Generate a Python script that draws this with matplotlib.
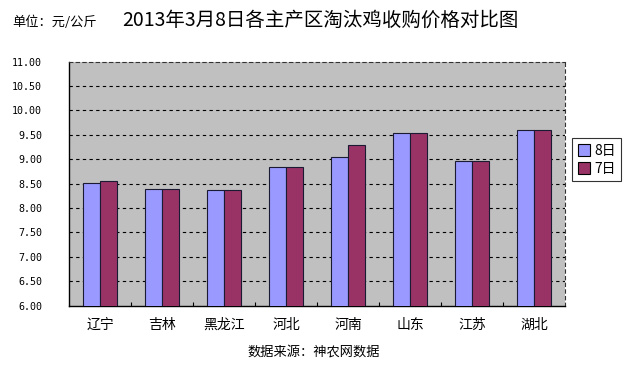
import matplotlib
matplotlib.use("Agg")
import matplotlib.pyplot as plt
import numpy as np
from matplotlib.patches import Patch

plt.rcParams['font.family'] = ['Noto Sans CJK SC', 'DejaVu Sans']

categories = ["辽宁", "吉林", "黑龙江", "河北", "河南", "山东", "江苏", "湖北"]
series_names = ["8日", "7日"]
values_8 = [8.51, 8.39, 8.37, 8.84, 9.05, 9.53, 8.96, 9.60]
values_7 = [8.56, 8.39, 8.37, 8.84, 9.30, 9.53, 8.96, 9.60]
yticks = [6.0, 6.5, 7.0, 7.5, 8.0, 8.5, 9.0, 9.5, 10.0, 10.5, 11.0]

fig = plt.figure(figsize=(6.32, 3.65), dpi=100)
ax = fig.add_axes([0.1097, 0.1625, 0.7843, 0.6685])
ax.set_facecolor('#C0C0C0')

x = np.arange(len(categories))
w = 0.275
ax.bar(x - w / 2, values_8, width=w, bottom=0, color='#9999FF', edgecolor='#1a1a33', linewidth=0.8, zorder=3)
ax.bar(x + w / 2, values_7, width=w, bottom=0, color='#993366', edgecolor='#1a1a33', linewidth=0.8, zorder=3)

ax.set_xlim(-0.5, len(categories) - 0.5)
ax.set_ylim(6.0, 11.0)
ax.set_yticks(yticks)
ax.set_yticklabels([f"{v:.2f}" for v in yticks], fontsize=7.2, family='DejaVu Sans Mono')
ax.tick_params(axis='y', length=0, pad=19.5)
ax.set_xticks(x)
ax.set_xticklabels(categories, fontsize=10)
ax.tick_params(axis='x', length=0, pad=9)
ax.set_xticks(np.arange(0.5, len(categories) - 0.5, 1), minor=True)
ax.tick_params(axis='x', which='minor', direction='in', length=3, width=0.8, color='black')

for v in yticks[1:-1]:
    ax.axhline(v, color='black', linestyle=(0, (3, 3)), linewidth=0.8, zorder=2)

ax.spines['left'].set_color('black')
ax.spines['bottom'].set_color('black')
ax.spines['left'].set_linewidth(1.0)
ax.spines['bottom'].set_linewidth(1.0)
for s in ['top', 'right']:
    ax.spines[s].set_linestyle((0, (3, 3)))
    ax.spines[s].set_color('#333333')
    ax.spines[s].set_linewidth(0.8)

handles = [Patch(facecolor='#9999FF', edgecolor='black', linewidth=0.8),
           Patch(facecolor='#993366', edgecolor='black', linewidth=0.8)]
leg = fig.legend(handles, series_names, loc='upper left',
                 bbox_to_anchor=(572 / 632, 1 - 138 / 365), fontsize=10,
                 frameon=True, fancybox=False, edgecolor='black',
                 handlelength=0.9, handleheight=0.9, handletextpad=0.3,
                 borderpad=0.4, labelspacing=0.3, borderaxespad=0)
leg.get_frame().set_linewidth(0.8)

fig.text(12 / 632, 1 - 22 / 365, "单位：元/公斤", fontsize=9.5, va='center', ha='left')
fig.text(320 / 632, 1 - 20 / 365, "2013年3月8日各主产区淘汰鸡收购价格对比图", fontsize=14, va='center', ha='center')
fig.text(314 / 632, 1 - 352 / 365, "数据来源：神农网数据", fontsize=9.5, va='center', ha='center')

fig.savefig("out.png", dpi=100, facecolor='white')
